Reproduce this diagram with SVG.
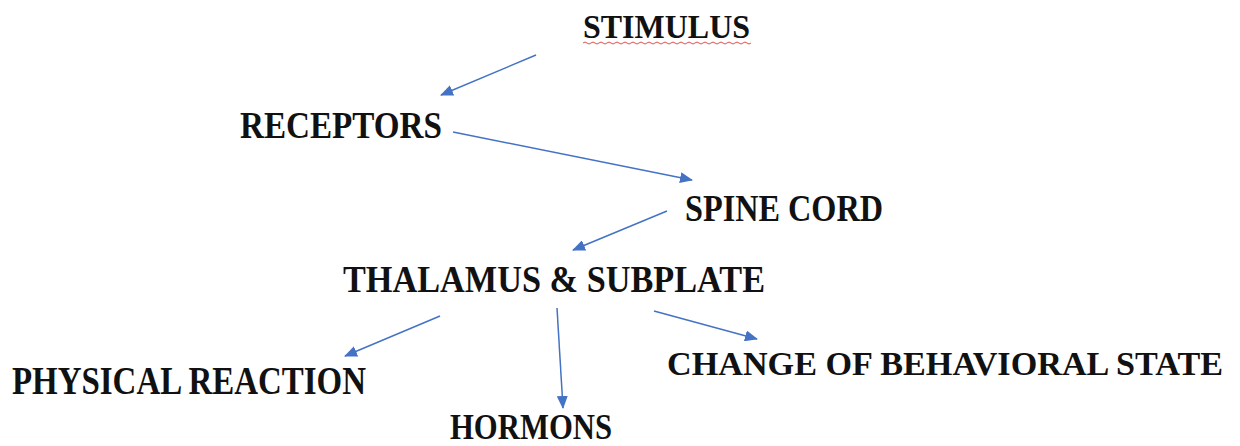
<svg xmlns="http://www.w3.org/2000/svg" width="1240" height="446" viewBox="0 0 1240 446">
<style>
.t{font-family:"Liberation Serif","DejaVu Serif",serif;font-weight:bold;fill:#111;}
.c{stroke:#4472C4;stroke-width:1.5;fill:none;marker-end:url(#ah);}
</style>
<defs>
<marker id="ah" viewBox="0 0 13 11" refX="12" refY="5.5" markerWidth="13" markerHeight="11" markerUnits="userSpaceOnUse" orient="auto">
<path d="M0,0 L13,5.5 L0,11 Z" fill="#4472C4"/>
</marker>
</defs>
<rect width="1240" height="446" fill="#fff"/>
<g id="stimulus">
<text class="t" x="583" y="38" font-size="34" textLength="167" lengthAdjust="spacingAndGlyphs">STIMULUS</text>
<path d="M583,43 q2,-2 4,0 t4,0 t4,0 t4,0 t4,0 t4,0 t4,0 t4,0 t4,0 t4,0 t4,0 t4,0 t4,0 t4,0 t4,0 t4,0 t4,0 t4,0 t4,0 t4,0 t4,0 t4,0 t4,0 t4,0 t4,0 t4,0 t4,0 t4,0 t4,0 t4,0 t4,0 t4,0 t4,0 t4,0 t4,0 t4,0 t4,0 t4,0 t4,0 t4,0 t4,0 t4,0" stroke="#e05050" stroke-width="1" fill="none"/>
</g>
<g id="receptors">
<text class="t" x="240" y="138" font-size="38" textLength="202" lengthAdjust="spacingAndGlyphs">RECEPTORS</text>
</g>
<g id="spine-cord">
<text class="t" x="685" y="221" font-size="38" textLength="198" lengthAdjust="spacingAndGlyphs">SPINE CORD</text>
</g>
<g id="thalamus">
<text class="t" x="343" y="292" font-size="38" textLength="422" lengthAdjust="spacingAndGlyphs">THALAMUS &amp; SUBPLATE</text>
</g>
<g id="physical-reaction">
<text class="t" x="12" y="394" font-size="40" textLength="354" lengthAdjust="spacingAndGlyphs">PHYSICAL REACTION</text>
</g>
<g id="hormons">
<text class="t" x="450" y="439" font-size="36" textLength="162" lengthAdjust="spacingAndGlyphs">HORMONS</text>
</g>
<g id="change-of-behavioral-state">
<text class="t" x="667" y="375" font-size="34" textLength="556" lengthAdjust="spacingAndGlyphs">CHANGE OF BEHAVIORAL STATE</text>
</g>
<g id="connectors">
<line class="c" x1="536" y1="55" x2="441" y2="95"/>
<line class="c" x1="453" y1="132" x2="692" y2="180"/>
<line class="c" x1="667" y1="211" x2="573" y2="250"/>
<line class="c" x1="440" y1="316" x2="345" y2="356"/>
<line class="c" x1="557" y1="308" x2="563" y2="408"/>
<line class="c" x1="654" y1="311" x2="757" y2="339"/>
</g>
</svg>
